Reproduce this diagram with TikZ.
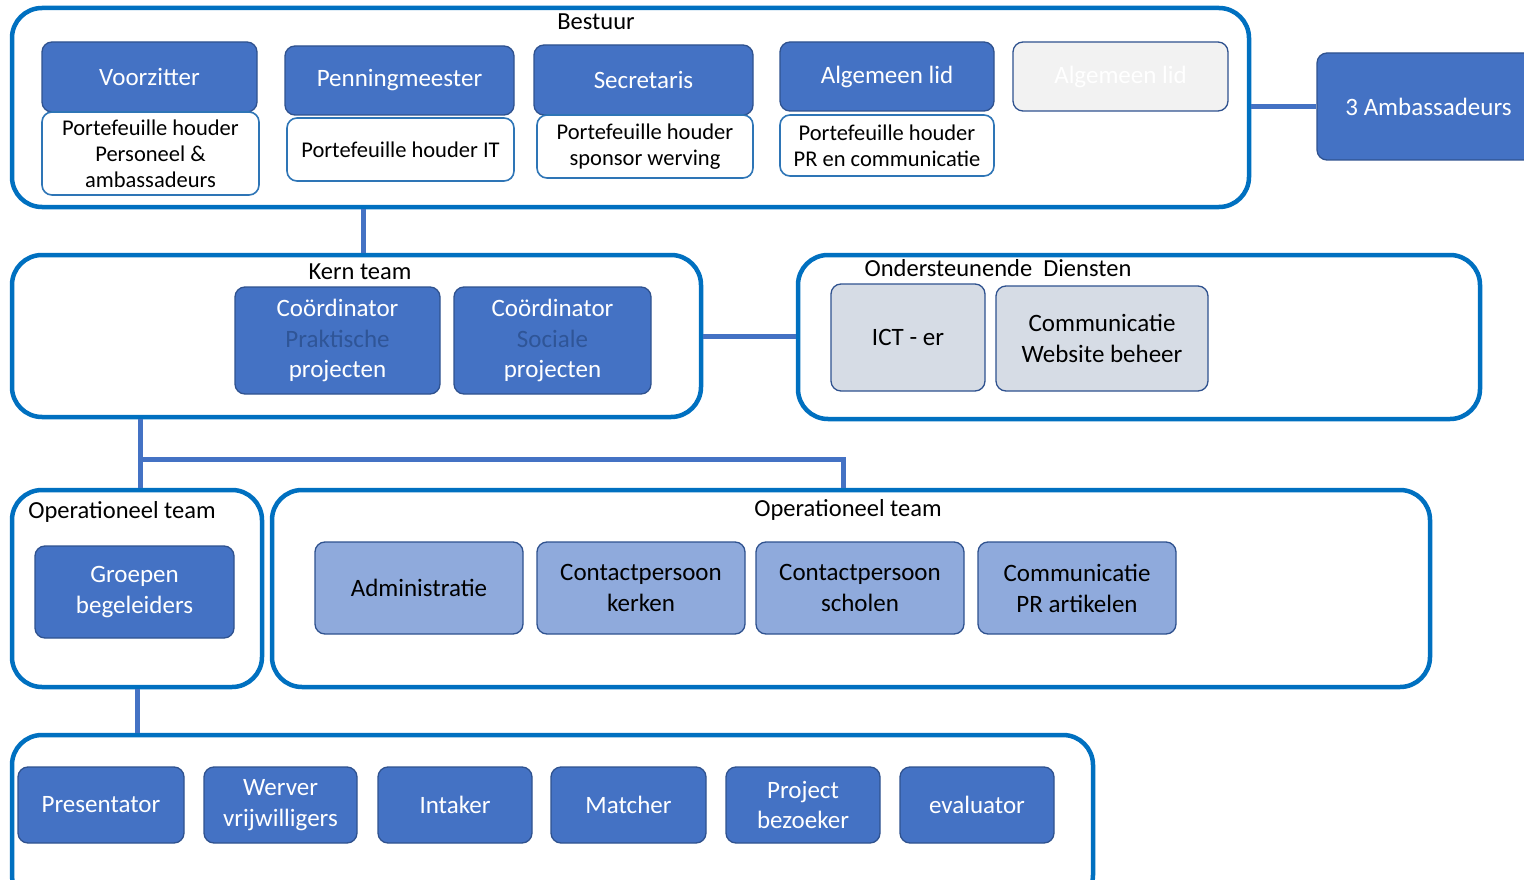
\documentclass[tikz,border=0pt]{standalone}
\usepackage{fontspec}
\setmainfont{Carlito}
\definecolor{contc}{HTML}{0070C0}
\definecolor{dblue}{HTML}{4472C4}
\definecolor{dbord}{HTML}{2F528F}
\definecolor{subb}{HTML}{2E75B6}
\definecolor{lblue}{HTML}{8FAADC}
\definecolor{gfill}{HTML}{D6DCE5}
\definecolor{pale}{HTML}{F2F2F2}
\definecolor{dtext}{HTML}{2F5597}
\newcommand{\bx}[7]{\node[#6, minimum width={#4-#2}, minimum height={#5-#3}] (#1) at ({(#2+#4)/2},{(#3+#5)/2}) {#7};}
\tikzset{
  box/.style={inner sep=0pt, align=center, rounded corners=10pt},
  container/.style={box, draw=contc, line width=4.5pt, rounded corners=30pt, fill=white},
  dbox/.style={box, fill=dblue, draw=dbord, line width=1.3pt, text=white, font=\fontsize{25}{30.5}\selectfont},
  subbox/.style={box, fill=white, draw=subb, line width=1.6pt, text=black, font=\fontsize{22.5}{26}\selectfont},
  lbox/.style={box, fill=lblue, draw=dbord, line width=1.3pt, text=black, font=\fontsize{25}{31}\selectfont},
  gbox/.style={box, fill=gfill, draw=dbord, line width=1.3pt, text=black, font=\fontsize{25}{31}\selectfont},
  pbox/.style={box, fill=pale, draw=dbord, line width=1.3pt, text=white, font=\fontsize{25}{30.5}\selectfont},
  lbl/.style={inner sep=0pt, text=black, font=\fontsize{24.5}{28}\selectfont},
  conn/.style={draw=dblue, line width=5pt},
}
\begin{document}
\begin{tikzpicture}[x=1pt,y=-1pt]
\useasboundingbox (0,0) rectangle (1524,880);
\clip (0,0) rectangle (1524,880);
% helper coordinates for connectors
\coordinate (cA) at (363,0);
\coordinate (cB) at (140,0);
\coordinate (cC) at (843,0);
\coordinate (cD) at (137,0);
\coordinate (cH) at (0,459);
% containers
\bx{bestuur}{12}{8}{1249}{207}{container}{}
\bx{kern}{12}{255}{701}{417}{container}{}
\bx{ond}{798}{255}{1480}{419}{container}{}
\bx{opl}{12}{490}{262}{687}{container}{}
\bx{opr}{272}{490}{1430}{687}{container}{}
\bx{bottom}{12}{735}{1093}{905}{container}{}
% Bestuur
\bx{voorz}{42}{42}{257}{112}{dbox}{Voorzitter}
\bx{voorzs}{42}{112}{259}{195}{subbox}{Portefeuille houder\\Personeel \&\\ambassadeurs}
\bx{penn}{285}{46}{514}{115}{dbox}{Penningmeester}
\bx{penns}{287}{118}{514}{181}{subbox}{Portefeuille houder IT}
\bx{secr}{534}{45}{753}{115}{dbox}{Secretaris}
\bx{secrs}{537}{115}{753}{178}{subbox}{Portefeuille houder\\sponsor werving}
\bx{alg}{780}{42}{994}{111}{dbox}{Algemeen lid}
\bx{algs}{780}{115}{994}{176}{subbox}{Portefeuille houder\\PR en communicatie}
\bx{alg2}{1013}{42}{1228}{111}{pbox}{Algemeen lid}
\bx{amb}{1317}{53}{1540}{160}{dbox}{3 Ambassadeurs}
% connectors
\draw[conn] (bestuur.east |- amb.west) -- (amb.west);
\draw[conn] (cA |- bestuur.south) -- (cA |- kern.north);
\draw[conn] (kern.east) -- (ond.west |- kern.east);
\draw[conn] (cB |- kern.south) -- (cB |- opl.north);
\draw[conn] (cB |- cH) -- (cC |- cH) -- (cC |- opr.north);
\draw[conn] (cD |- opl.south) -- (cD |- bottom.north);
% labels
\node[lbl] (lbestuur) at (596,22) {Bestuur};
\node[lbl] (lkern) at (360,272) {Kern team};
\node[lbl] (lond) at (998,268) {Ondersteunende\ \ Diensten};
\node[lbl] (lopl) at (122,512) {Operationeel\ team};
\node[lbl] (lopr) at (848,510) {Operationeel\ team};
% Kern
\bx{coordp}{235}{287}{440}{394}{dbox}{Coördinator\\\textcolor{dtext}{Praktische}\\projecten}
\bx{coords}{454}{287}{651}{394}{dbox}{Coördinator\\\textcolor{dtext}{Sociale}\\projecten}
% Ondersteunende
\bx{ict}{831}{284}{985}{391}{gbox}{ICT - er}
\bx{comw}{996}{286}{1208}{391}{gbox}{Communicatie\\Website beheer}
% Operationeel
\bx{groep}{35}{546}{234}{638}{dbox}{Groepen\\begeleiders}
\bx{admin}{315}{542}{523}{634}{lbox}{Administratie}
\bx{ckerk}{537}{542}{745}{634}{lbox}{Contactpersoon\\kerken}
\bx{cschool}{756}{542}{964}{634}{lbox}{Contactpersoon\\scholen}
\bx{cpr}{978}{542}{1176}{634}{lbox}{Communicatie\\PR artikelen}
% bottom
\bx{pres}{18}{767}{184}{843}{dbox}{Presentator}
\bx{werv}{204}{767}{357}{843}{dbox}{Werver\\vrijwilligers}
\bx{intk}{378}{767}{532}{843}{dbox}{Intaker}
\bx{matc}{551}{767}{706}{843}{dbox}{Matcher}
\bx{proj}{726}{767}{880}{843}{dbox}{Project\\bezoeker}
\bx{eval}{900}{767}{1054}{843}{dbox}{evaluator}
\end{tikzpicture}
\end{document}
